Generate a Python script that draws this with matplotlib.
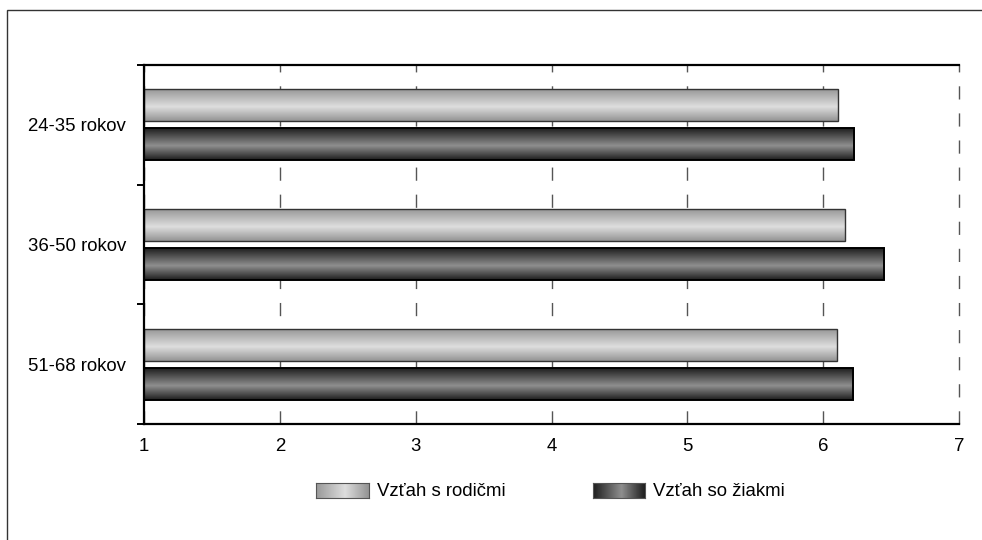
#!/usr/bin/env python3
# plot.py

import matplotlib
matplotlib.use("Agg")
import matplotlib.pyplot as plt
import numpy as np
from matplotlib.patches import Rectangle

plt.rcParams["font.family"] = ["Liberation Sans", "DejaVu Sans"]

categories = ["24-35 rokov", "36-50 rokov", "51-68 rokov"]
series_names = ["Vzťah s rodičmi", "Vzťah so žiakmi"]
rodicmi = [6.11, 6.16, 6.10]
ziakmi = [6.23, 6.45, 6.22]
xticks = [1, 2, 3, 4, 5, 6, 7]

# gradient stops (position, gray level) for the two fills
light_stops = ([0.0, 0.55, 1.0], [0.60, 0.87, 0.58])
dark_stops = ([0.0, 0.55, 1.0], [0.12, 0.56, 0.12])


def gradient(stops, n=64):
    t = np.linspace(0, 1, n)
    g = np.interp(t, stops[0], stops[1])
    return np.dstack([g, g, g])


def fill_bars(ax, bars, stops):
    img = gradient(stops).reshape(-1, 1, 3)
    for p in bars:
        x0, y0 = p.get_x(), p.get_y()
        x1, y1 = x0 + p.get_width(), y0 + p.get_height()
        # axis is inverted, so y1 is visually the bottom
        ax.imshow(img, extent=(x0, x1, y1, y0), aspect="auto",
                  interpolation="bilinear", zorder=1)


def plot(ax):
    y = np.arange(len(categories))
    h = 0.267
    off = 0.162

    b1 = ax.barh(y - off, np.array(rodicmi) - 1, left=1, height=h,
                 facecolor="none", edgecolor="#333333", linewidth=1.0, zorder=2)
    b2 = ax.barh(y + off, np.array(ziakmi) - 1, left=1, height=h,
                 facecolor="none", edgecolor="black", linewidth=1.4, zorder=2)
    fill_bars(ax, b1, light_stops)
    fill_bars(ax, b2, dark_stops)

    ax.set_xlim(1, 7)
    ax.set_ylim(len(categories) - 0.5, -0.5)
    ax.set_xticks(xticks)
    ax.set_xticklabels([str(t) for t in xticks])
    ax.set_yticks(y)
    ax.set_yticklabels(categories)
    ax.set_yticks(np.arange(len(categories) + 1) - 0.5, minor=True)

    ax.tick_params(axis="x", length=0, pad=10, labelsize=13.4)
    ax.tick_params(axis="y", which="major", length=0, pad=13, labelsize=13.4)
    ax.tick_params(axis="y", which="minor", length=5, width=1.4,
                   direction="out", color="black")

    ax.set_axisbelow(True)
    ax.grid(axis="x", color="#555555", linewidth=1.0,
            linestyle=(0, (9.5, 10)))
    for line in ax.get_xgridlines():
        line.set_clip_on(False)
    for s in ["left", "bottom", "top"]:
        ax.spines[s].set_linewidth(1.6)
        ax.spines[s].set_color("black")
    ax.spines["right"].set_visible(False)


def legend(fig):
    W, H = 982, 540
    swatches = [(316, 369, light_stops), (593, 645, dark_stops)]
    for (x0, x1, stops), name in zip(swatches, series_names):
        lax = fig.add_axes([x0 / W, 1 - 498 / H, (x1 - x0) / W, 15 / H])
        img = gradient(stops).reshape(1, -1, 3)
        lax.imshow(img, aspect="auto", interpolation="bilinear")
        lax.set_xticks([])
        lax.set_yticks([])
        for s in lax.spines.values():
            s.set_color("#555555")
            s.set_linewidth(0.8)
        fig.text((x1 + 8) / W, 1 - 491 / H, name, fontsize=13.4,
                 va="center", ha="left")


def main():
    fig = plt.figure(figsize=(9.82, 5.4), dpi=100)
    W, H = 982, 540
    ax = fig.add_axes([144 / W, 1 - 424 / H, 815 / W, 359 / H])
    plot(ax)
    legend(fig)

    # outer chart border (runs off the right and bottom edges)
    fig.add_artist(Rectangle((7 / W, -0.1), 1.2, 1 - 10 / H + 0.1,
                             transform=fig.transFigure, fill=False,
                             edgecolor="#333333", linewidth=1.0))

    fig.savefig("out.png", dpi=100)


if __name__ == "__main__":
    main()
